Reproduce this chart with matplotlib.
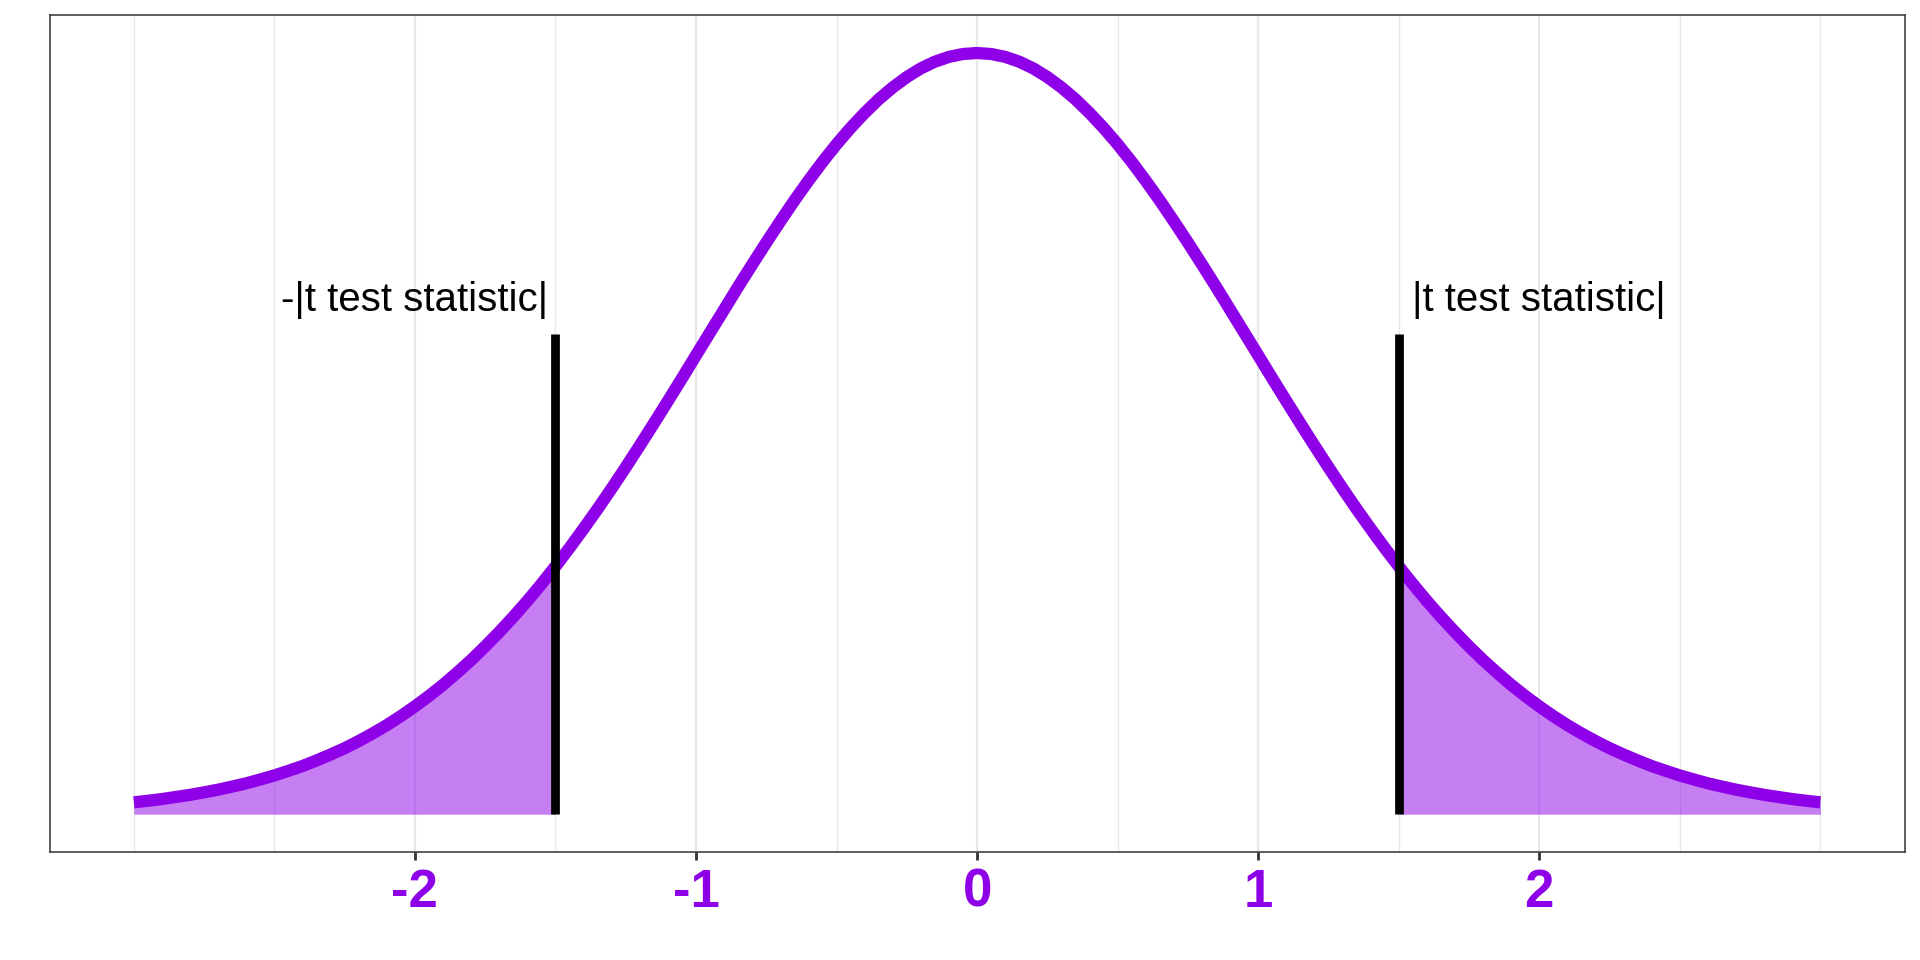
import matplotlib
matplotlib.use("Agg")
import matplotlib.pyplot as plt
import numpy as np

# density curve (x from 0 to 3, mirrored for negatives)
x_half = [0.0, 0.05, 0.1, 0.15, 0.2, 0.25, 0.3, 0.35, 0.4, 0.45,
          0.5, 0.55, 0.6, 0.65, 0.7, 0.75, 0.8, 0.85, 0.9, 0.95,
          1.0, 1.05, 1.1, 1.15, 1.2, 1.25, 1.3, 1.35, 1.4, 1.45,
          1.5, 1.55, 1.6, 1.65, 1.7, 1.75, 1.8, 1.85, 1.9, 1.95,
          2.0, 2.05, 2.1, 2.15, 2.2, 2.25, 2.3, 2.35, 2.4, 2.45,
          2.5, 2.55, 2.6, 2.65, 2.7, 2.75, 2.8, 2.85, 2.9, 2.95, 3.0]
y_half = [0.3964, 0.3959, 0.3944, 0.3919, 0.3884, 0.3839, 0.3785, 0.3723, 0.3652, 0.3574,
          0.3489, 0.3397, 0.3299, 0.3196, 0.3088, 0.2977, 0.2863, 0.2747, 0.2628, 0.2509,
          0.2390, 0.2270, 0.2152, 0.2035, 0.1920, 0.1807, 0.1697, 0.1590, 0.1487, 0.1387,
          0.1291, 0.1199, 0.1111, 0.1028, 0.0949, 0.0874, 0.0803, 0.0737, 0.0674, 0.0616,
          0.0562, 0.0511, 0.0464, 0.0421, 0.0381, 0.0344, 0.0311, 0.0280, 0.0251, 0.0226,
          0.0202, 0.0181, 0.0161, 0.0144, 0.0128, 0.0114, 0.0101, 0.0090, 0.0079, 0.0070, 0.0062]

t_stat = 1.5
seg_top = 0.25
labels = ["-|t test statistic|", "|t test statistic|"]
label_x = [-2.0, 2.0]
label_y = 0.268
major_ticks = [-2, -1, 0, 1, 2]
minor_ticks = [-3, -2.5, -1.5, -0.5, 0.5, 1.5, 2.5, 3]

x = np.array([-v for v in x_half[:0:-1]] + x_half)
y = np.array(y_half[:0:-1] + y_half)

purple = "#8E00E8"

fig = plt.figure(figsize=(19.2, 9.6), dpi=100)
ax = fig.add_axes([0.0258, 0.1122, 0.9662, 0.8722])

for m in minor_ticks:
    ax.axvline(m, color="#e8e8e8", lw=1.0, zorder=0)
for m in major_ticks:
    ax.axvline(m, color="#e8e8e8", lw=1.6, zorder=0)

# shaded tails
left = x <= -t_stat
right = x >= t_stat
ax.fill_between(x[left], 0, y[left], color=purple, alpha=0.5, lw=0, zorder=1)
ax.fill_between(x[right], 0, y[right], color=purple, alpha=0.5, lw=0, zorder=1)

ax.plot(x, y, color=purple, lw=8.8, solid_capstyle="butt",
        solid_joinstyle="round", zorder=2)

for s in (-t_stat, t_stat):
    ax.plot([s, s], [0, seg_top], color="black", lw=6.3, solid_capstyle="butt", zorder=3)

for lx, lab in zip(label_x, labels):
    ax.text(lx, label_y, lab, ha="center", va="center", fontsize=29,
            family="Liberation Sans", color="black")

ax.set_xlim(-3.3, 3.3)
ax.set_ylim(-0.05 * 0.3964, 0.3964 * 1.05)
ax.set_xticks(major_ticks)
ax.set_xticklabels([str(t) for t in major_ticks], fontsize=38, fontweight="bold",
                   color=purple, family="Liberation Sans")
ax.set_yticks([])
ax.tick_params(axis="x", length=6, width=2, color="#333333", pad=5)
for sp in ax.spines.values():
    sp.set_color("#333333")
    sp.set_linewidth(1.1)

fig.savefig("out.png", dpi=100)
